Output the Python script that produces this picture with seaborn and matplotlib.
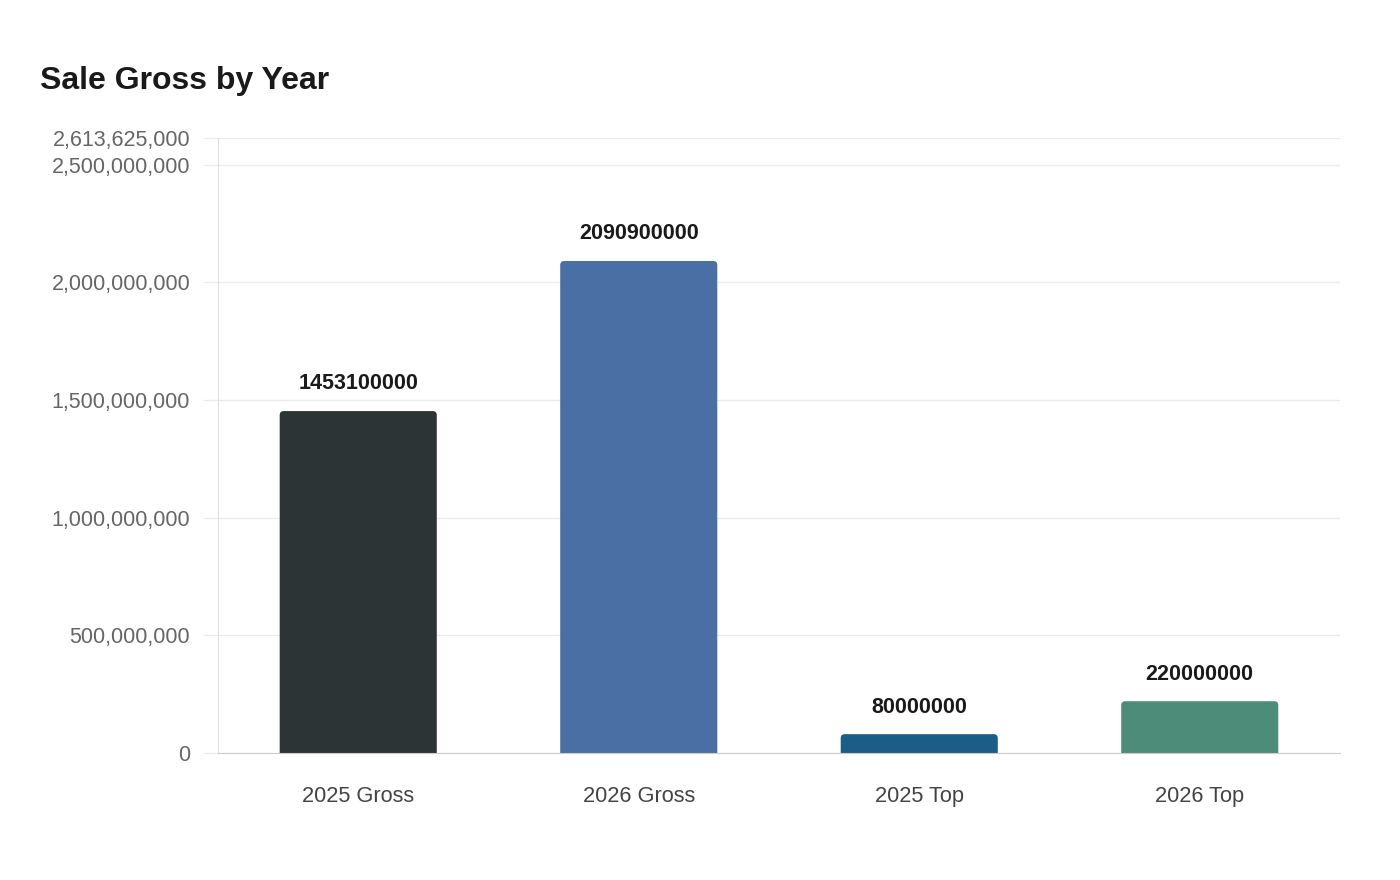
import numpy as np
import pandas as pd
import matplotlib
matplotlib.use('Agg')
import matplotlib.pyplot as plt
import seaborn as sns
from matplotlib.patches import FancyBboxPatch
from matplotlib.ticker import FuncFormatter

categories = ['2025 Gross', '2026 Gross', '2025 Top', '2026 Top']
values = [1453100000, 2090900000, 80000000, 220000000]
colors = ['#2d3436', '#4a6fa5', '#1a5e87', '#4e8c7a']
y_ticks = [0, 500000000, 1000000000, 1500000000, 2000000000, 2500000000, 2613625000]
y_max = 2613625000

sns.set_style('white')
plt.rcParams['font.family'] = ['Liberation Sans', 'DejaVu Sans']

df = pd.DataFrame({'category': categories, 'value': values})

fig = plt.figure(figsize=(14, 8.8), dpi=100)
ax = fig.add_axes([218 / 1400, 1 - 753 / 880, 1122 / 1400, 615 / 880])

sns.barplot(data=df, x='category', y='value', hue='category', palette=colors,
            saturation=1, width=0.56, legend=False, ax=ax, zorder=3)
ax.set_ylim(0, y_max)
ax.set_xlim(-0.5, len(categories) - 0.5)

# swap plain bars for rounded ones
px_x = 1122 / len(categories)
px_y = 615 / y_max
aspect = px_x / px_y
r = 4 / px_x
for bar in list(ax.patches):
    x0, w, h = bar.get_x(), bar.get_width(), bar.get_height()
    fc = bar.get_facecolor()
    bar.remove()
    ax.add_patch(FancyBboxPatch((x0, -r * aspect), w, h + r * aspect,
                                boxstyle=f'round,pad=0,rounding_size={r}',
                                mutation_aspect=aspect, facecolor=fc,
                                edgecolor='none', zorder=3, clip_on=True))

for i, v in enumerate(values):
    ax.annotate(str(v), (i, v), xytext=(0, 12), textcoords='offset points',
                ha='center', va='bottom', fontsize=15.5, fontweight='bold',
                color='#1a1a1a')

ax.set_yticks(y_ticks)
ax.yaxis.set_major_formatter(FuncFormatter(lambda v, p: f'{int(round(v)):,}'))
ax.grid(axis='y', color='#ebebeb', linewidth=1, zorder=0)
ax.tick_params(axis='y', left=True, length=11, width=1, color='#ebebeb', pad=9,
               labelsize=15.5, labelcolor='#666666')
ax.tick_params(axis='x', bottom=False, length=0, pad=24, labelsize=15.7, labelcolor='#444444')

for side in ['top', 'right']:
    ax.spines[side].set_visible(False)
ax.spines['left'].set_color('#e0e0e0')
ax.spines['bottom'].set_color('#cccccc')
ax.spines['bottom'].set_zorder(4)
ax.set_xlabel('')
ax.set_ylabel('')

fig.text(40 / 1400, 1 - 81 / 880, 'Sale Gross by Year', fontsize=23, fontweight='bold',
         color='#1a1a1a', ha='left', va='center')

fig.savefig('out.png', dpi=100)
